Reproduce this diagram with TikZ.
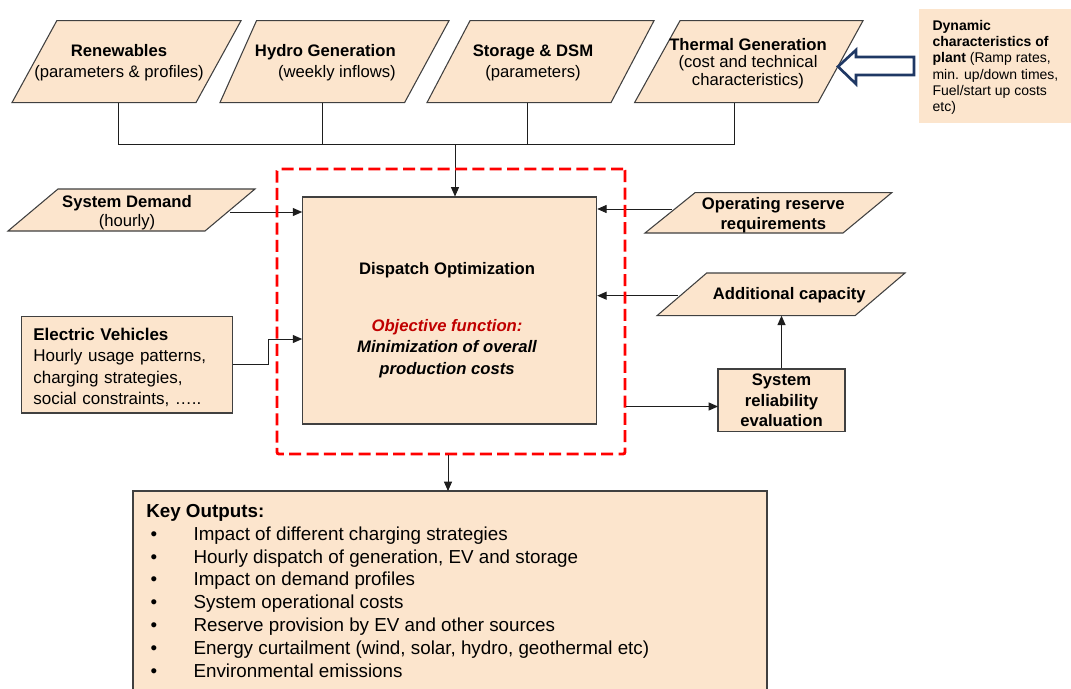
\documentclass[tikz,border=0pt]{standalone}
\usepackage{fontspec}
\setmainfont{Liberation Sans}
\usetikzlibrary{arrows.meta,calc}
\definecolor{peach}{RGB}{252,229,205}
\definecolor{lineg}{RGB}{30,30,30}
\definecolor{boxg}{RGB}{64,64,64}
\definecolor{objred}{RGB}{192,0,0}
\definecolor{navy}{RGB}{31,56,100}
\newcommand\myfs[2]{\fontsize{#1}{#2}\selectfont}
\begin{document}
\begin{tikzpicture}[x=0.75pt,y=-0.75pt,
  shapeline/.style={draw=boxg,line width=0.8pt,fill=peach},
  txt/.style={inner sep=0pt},
  conn/.style={draw=lineg,line width=0.7pt},
  arr/.style={conn,-{Triangle[length=7pt,width=6pt]}},
]
\useasboundingbox (0,0) rectangle (1071,689);
\fill[white] (0,0) rectangle (1071,689);

% ---- top inputs
\filldraw[shapeline] (56.8,20.7) -- (241,20.7) -- (196,102.6) -- (12,102.6) -- cycle;
\node[txt,align=center,font=\myfs{12.5}{15.75}] (ren) at (119,62.5) {\textbf{Renewables}\\(parameters \& profiles)};
\filldraw[shapeline] (256.5,20.7) -- (449,20.7) -- (404.6,102.6) -- (220,102.6) -- cycle;
\node[txt,align=right,anchor=east,font=\myfs{12.5}{15.75}] (hyd) at (396,62.5) {\textbf{Hydro Generation}\\(weekly inflows)};
\filldraw[shapeline] (470,20.7) -- (654,20.7) -- (611,102.6) -- (427,102.6) -- cycle;
\node[txt,align=center,font=\myfs{12.5}{15.75}] (sto) at (533,62.5) {\textbf{Storage \& DSM}\\(parameters)};
\filldraw[shapeline] (680,20.7) -- (863,20.7) -- (818,102.6) -- (634.6,102.6) -- cycle;
\node[txt,align=center,font=\myfs{12.5}{13.1}] (thm) at (748,63.5) {\textbf{Thermal Generation}\\(cost and technical\\characteristics)};

% ---- dynamic characteristics
\fill[peach] (919,9.3) rectangle (1071,122.7);
\node[txt,align=left,anchor=west,font=\myfs{10.5}{12.2}] (dyn) at (932.3,67.5) {\textbf{Dynamic}\\\textbf{characteristics of}\\\textbf{plant} (Ramp rates,\\min. up/down times,\\Fuel/start up costs\\etc)};
\filldraw[draw=navy,fill=white,line width=2pt,line join=miter]
  (838,66.6) -- (856,50) -- (856,57) -- (914,57) -- (914,75) -- (856,75) -- (856,84) -- cycle;

% ---- dispatch optimisation
\node[shapeline,minimum width=220.5pt,minimum height=170.25pt,inner sep=0pt] (disp) at (449.7,310.5) {};
\node[txt,font=\myfs{12.5}{15}] (dtitle) at (447,270.5) {\textbf{Dispatch Optimization}};
\node[txt,align=center,font=\myfs{12.5}{16.2}\bfseries\itshape] (dobj) at (447,348.5) {\textcolor{objred}{Objective function:}\\Minimization of overall\\production costs};

% ---- system demand
\filldraw[shapeline] (58,189) -- (255,189) -- (205,231) -- (8,231) -- cycle;
\node[txt,align=center,font=\myfs{12.5}{14.5}] (sd) at (127,213) {\textbf{System Demand}\\(hourly)};

% ---- electric vehicles
\node[shapeline,minimum width=158.25pt,minimum height=72.2pt,text width=140.85pt,inner xsep=8.7pt,inner ysep=0pt,align=left,font=\myfs{12.75}{15.9}] (ev) at (127.2,364.85)
  {\rule{0pt}{13pt}\textbf{Electric Vehicles}\\Hourly usage patterns,\\charging strategies,\\social constraints, …..};

% ---- operating reserve
\filldraw[shapeline] (695,192.7) -- (891.7,192.7) -- (843,233) -- (645,233) -- cycle;
\node[txt,align=center,font=\myfs{12.5}{15.5}\bfseries] (or) at (773.3,215.3) {Operating reserve\\requirements};

% ---- additional capacity
\filldraw[shapeline] (706.7,273) -- (905,273) -- (855,315.7) -- (657,315.7) -- cycle;
\node[txt,font=\myfs{12.5}{15}\bfseries] (ac) at (789.3,295.5) {Additional capacity};

% ---- reliability
\node[shapeline,minimum width=95.25pt,minimum height=47pt,inner sep=0pt,align=center,font=\myfs{12.5}{15.4}\bfseries] (rel) at (781.5,400.3)
  {System\\reliability\\evaluation};

% ---- key outputs
\filldraw[shapeline] (133,700) -- (133,491) -- (767,491) -- (767,700);
\coordinate (outin) at (448,491);
\node[txt,align=left,anchor=north west,font=\myfs{14.1}{17.1}] (outs) at (146,504) {\textbf{Key Outputs:}\\
\makebox[35.5pt][l]{\hspace{3.3pt}•}Impact of different charging strategies\\
\makebox[35.5pt][l]{\hspace{3.3pt}•}Hourly dispatch of generation, EV and storage\\
\makebox[35.5pt][l]{\hspace{3.3pt}•}Impact on demand profiles\\
\makebox[35.5pt][l]{\hspace{3.3pt}•}System operational costs\\
\makebox[35.5pt][l]{\hspace{3.3pt}•}Reserve provision by EV and other sources\\
\makebox[35.5pt][l]{\hspace{3.3pt}•}Energy curtailment (wind, solar, hydro, geothermal etc)\\
\makebox[35.5pt][l]{\hspace{3.3pt}•}Environmental emissions};

% ---- connectors
\coordinate (renb) at (118,102.6);
\coordinate (hydb) at (322,102.6);
\coordinate (stob) at (527.5,102.6);
\coordinate (thmb) at (734.6,102.6);
\coordinate (bus) at (455,144);
\draw[conn] (renb) |- (thmb|-bus) -- (thmb);
\draw[conn] (hydb) -- (hydb|-bus);
\draw[conn] (stob) -- (stob|-bus);
\draw[arr] (bus) -- (bus|-disp.north);

\coordinate (sdo) at (230,212);
\draw[arr] (sdo) -- (disp.west|-sdo);
\coordinate (evin) at (302.7,339);
\draw[arr] (ev.east) -- ++(35,0) |- (disp.west|-evin);
\coordinate (oro) at (671.7,209);
\draw[arr] (oro) -- (disp.east|-oro);
\coordinate (aco) at (678,295.7);
\draw[arr] (aco) -- (disp.east|-aco);
\coordinate (acb) at (781.5,315.7);
\draw[arr] (rel.north) -- (acb);

% ---- dashed boundary
\node[draw=red,dash pattern=on 9pt off 4pt,line width=2.2pt,rounded corners=1.5pt,minimum width=261pt,minimum height=213.75pt,inner sep=0pt] (dash) at (451,311.5) {};
\coordinate (relin) at (718,406.5);
\draw[arr] (dash.east|-relin) -- (relin);
\draw[arr] (dash.south-|outin) -- (outin);
\end{tikzpicture}
\end{document}
